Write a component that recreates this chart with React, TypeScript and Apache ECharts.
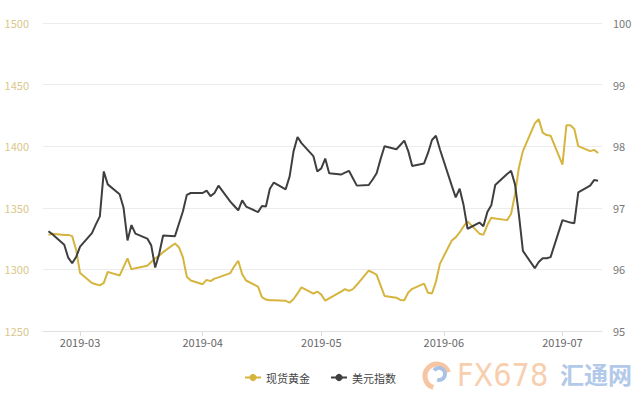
import React, { useEffect, useRef } from "react";
import * as echarts from "echarts";

const dates: string[] = [
  "2019-02-21","2019-02-22","2019-02-25","2019-02-26","2019-02-27","2019-02-28",
  "2019-03-01","2019-03-04","2019-03-05","2019-03-06","2019-03-07","2019-03-08","2019-03-11","2019-03-12","2019-03-13","2019-03-14","2019-03-15","2019-03-18","2019-03-19","2019-03-20","2019-03-21","2019-03-22","2019-03-25","2019-03-26","2019-03-27","2019-03-28","2019-03-29",
  "2019-04-01","2019-04-02","2019-04-03","2019-04-04","2019-04-05","2019-04-08","2019-04-09","2019-04-10","2019-04-11","2019-04-12","2019-04-15","2019-04-16","2019-04-17","2019-04-18","2019-04-19","2019-04-22","2019-04-23","2019-04-24","2019-04-25","2019-04-26","2019-04-29","2019-04-30",
  "2019-05-01","2019-05-02","2019-05-03","2019-05-06","2019-05-07","2019-05-08","2019-05-09","2019-05-10","2019-05-13","2019-05-14","2019-05-15","2019-05-16","2019-05-17","2019-05-20","2019-05-21","2019-05-22","2019-05-23","2019-05-24","2019-05-27","2019-05-28","2019-05-29","2019-05-30","2019-05-31",
  "2019-06-03","2019-06-04","2019-06-05","2019-06-06","2019-06-07","2019-06-10","2019-06-11","2019-06-12","2019-06-13","2019-06-14","2019-06-17","2019-06-18","2019-06-19","2019-06-20","2019-06-21","2019-06-24","2019-06-25","2019-06-26","2019-06-27","2019-06-28",
  "2019-07-01","2019-07-02","2019-07-03","2019-07-04","2019-07-05","2019-07-08","2019-07-09","2019-07-10",
];

const goldValues: number[] = [
  1328, 1329, 1328, 1328, 1327, 1316,
  1297, 1289, 1288, 1287, 1289, 1298, 1295, 1302, 1309, 1300, 1301, 1303, 1306, 1309, 1311, 1314, 1321, 1318, 1310, 1294, 1291,
  1288, 1291.5, 1290.5, 1292.5, 1293.5, 1297, 1302.5, 1307, 1296, 1291, 1286, 1277.5, 1275.5, 1275, 1275, 1274.5, 1273, 1276, 1280.5, 1285.5, 1280.3, 1282,
  1279.5, 1274.6, 1276.5, 1282, 1284, 1282.5, 1284, 1287.5, 1299, 1297.5, 1295.5, 1287, 1278.5, 1277, 1275.2, 1275, 1281.3, 1284.2, 1288.5, 1281, 1280.4, 1290, 1304.5,
  1323.5, 1326, 1330, 1335, 1339, 1329, 1328, 1336, 1342, 1341.4, 1340, 1345, 1361, 1383, 1396, 1418.5, 1422, 1411, 1409, 1408.5,
  1385, 1417, 1417, 1414, 1400, 1396, 1397, 1394.5,
];

const dxyValues: number[] = [
  96.62, 96.57, 96.4, 96.19, 96.1, 96.2,
  96.37, 96.59, 96.73, 96.86, 97.59, 97.38, 97.22, 97.0, 96.47, 96.72, 96.58, 96.5, 96.39, 96.03, 96.25, 96.55, 96.54, 96.74, 96.94, 97.21, 97.24,
  97.24, 97.28, 97.19, 97.24, 97.36, 97.1, 97.03, 96.96, 97.12, 97.02, 96.93, 97.03, 97.02, 97.31, 97.41, 97.3, 97.51, 97.92, 98.15, 98.05, 97.84, 97.59,
  97.64, 97.8, 97.56, 97.54, 97.57, 97.6, 97.48, 97.36, 97.37, 97.46, 97.56, 97.79, 98.0, 97.95, 98.02, 98.09, 97.92, 97.68, 97.72, 97.89, 98.1, 98.17, 97.95,
  97.36, 97.17, 97.31, 97.04, 96.66, 96.76, 96.7, 96.93, 97.04, 97.37, 97.55, 97.6, 97.38, 96.88, 96.3, 96.02, 96.12, 96.18, 96.18, 96.2,
  96.8, 96.78, 96.76, 96.75, 97.25, 97.36, 97.45, 97.44,
];

const monthTicks: string[] = ["2019-03", "2019-04", "2019-05", "2019-06", "2019-07"];
const seriesNames: string[] = ["现货黄金", "美元指数"];

function ts(s: string, hour = 0): number {
  const [y, m, d] = s.split("-").map(Number);
  return new Date(y, m - 1, d || 1, hour).getTime();
}

function ym(v: number): string {
  const d = new Date(v);
  const m = d.getMonth() + 1;
  return d.getFullYear() + "-" + (m < 10 ? "0" + m : "" + m);
}

export default function App() {
  const ref = useRef<HTMLDivElement>(null);

  useEffect(() => {
    if (!ref.current) return;
    const chart = echarts.init(ref.current, undefined, { renderer: "svg" });
    const tickValues = monthTicks.map((m) => ts(m));
    const goldData = dates.map((d, i) => [ts(d), goldValues[i]]);
    const dxyData = dates.map((d, i) => [ts(d), dxyValues[i]]);
    const font = "'Noto Sans CJK SC', 'Noto Sans', sans-serif";

    chart.setOption({
      animation: false,
      backgroundColor: "#ffffff",
      textStyle: { fontFamily: font },
      grid: { left: 43, right: 38, top: 23, bottom: 69, containLabel: false },
      legend: {
        data: seriesNames,
        left: "center",
        top: 367,
        itemWidth: 16,
        itemHeight: 9,
        itemGap: 20,
        textStyle: { color: "#444", fontSize: 11, fontFamily: font },
      },
      xAxis: {
        type: "value",
        min: ts("2019-02-19", 15),
        max: ts("2019-07-11", 0),
        axisLine: { show: true, lineStyle: { color: "#e0e0e0" } },
        axisTick: {
          show: true,
          customValues: tickValues,
          length: 5,
          lineStyle: { color: "#dddddd" },
        },
        axisLabel: {
          customValues: tickValues,
          formatter: (v: number) => ym(v),
          color: "#666",
          fontSize: 11,
          margin: 5,
          fontFamily: font,
        },
        splitLine: { show: false },
      },
      yAxis: [
        {
          type: "value",
          min: 1250,
          max: 1500,
          interval: 50,
          position: "left",
          axisLine: { show: false },
          axisTick: { show: false },
          axisLabel: {
            color: "#d9c78a",
            fontSize: 11,
            margin: 14,
            fontFamily: font,
            formatter: (v: number) => String(v),
          },
          splitLine: { show: true, lineStyle: { color: "#ececec" } },
        },
        {
          type: "value",
          min: 95,
          max: 100,
          interval: 1,
          position: "right",
          axisLine: { show: false },
          axisTick: { show: false },
          axisLabel: {
            color: "#777",
            fontSize: 11,
            margin: 11,
            fontFamily: font,
            formatter: (v: number) => String(v),
          },
          splitLine: { show: false },
        },
      ],
      series: [
        {
          name: seriesNames[0],
          type: "line",
          yAxisIndex: 0,
          data: goldData,
          symbol: "circle",
          symbolSize: 6,
          showSymbol: false,
          itemStyle: { color: "#d6b53e" },
          lineStyle: { color: "#d6b53e", width: 2 },
          z: 2,
        },
        {
          name: seriesNames[1],
          type: "line",
          yAxisIndex: 1,
          data: dxyData,
          symbol: "circle",
          symbolSize: 6,
          showSymbol: false,
          itemStyle: { color: "#3f3f3f" },
          lineStyle: { color: "#3f3f3f", width: 2 },
          z: 3,
        },
      ],
      graphic: [
        {
          type: "arc",
          shape: { cx: 437, cy: 376, r: 12, startAngle: Math.PI * 0.6, endAngle: Math.PI * 1.9 },
          style: { stroke: "#f6c6a3", lineWidth: 5, fill: "none" },
          silent: true,
        },
        {
          type: "arc",
          shape: { cx: 439, cy: 374, r: 6, startAngle: Math.PI * 1.2, endAngle: Math.PI * 2.6 },
          style: { stroke: "#a9c2e6", lineWidth: 4, fill: "none" },
          silent: true,
        },
        {
          type: "text",
          left: 457,
          top: 359,
          style: {
            text: "FX678",
            fill: "#f7cfae",
            font: "32px 'Liberation Sans Narrow', 'DejaVu Sans Condensed', sans-serif",
          },
          silent: true,
        },
        {
          type: "text",
          left: 560,
          top: 361,
          style: {
            text: "汇通网",
            fill: "#b3c9ea",
            font: "bold 24px 'Noto Sans CJK SC', sans-serif",
          },
          silent: true,
        },
      ],
    });

    return () => chart.dispose();
  }, []);

  return (
    <div
      ref={ref}
      style={{ position: "fixed", left: 0, top: 0, width: 640, height: 400 }}
    />
  );
}
